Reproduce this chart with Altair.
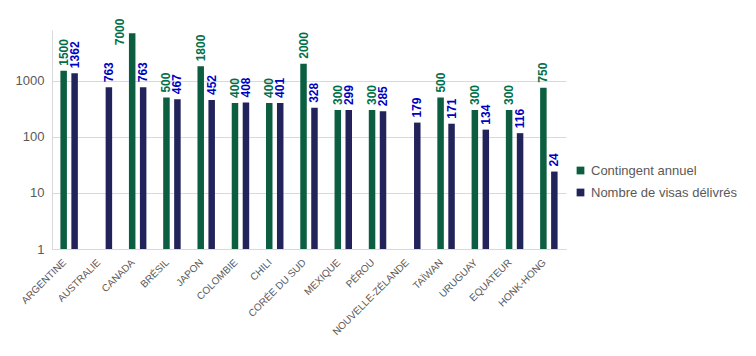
import altair as alt
import pandas as pd

countries = ["ARGENTINE", "AUSTRALIE", "CANADA", "BRÉSIL", "JAPON", "COLOMBIE", "CHILI",
             "CORÉE DU SUD", "MEXIQUE", "PÉROU", "NOUVELLE-ZÉLANDE", "TAÏWAN", "URUGUAY",
             "EQUATEUR", "HONK-HONG"]
contingent = [1500, None, 7000, 500, 1800, 400, 400, 2000, 300, 300, None, 500, 300, 300, 750]
visas = [1362, 763, 763, 467, 452, 408, 401, 328, 299, 285, 179, 171, 134, 116, 24]
series = ["Contingent annuel", "Nombre de visas délivrés"]

rows = []
for c, a, b in zip(countries, contingent, visas):
    if a is not None:
        rows.append({"pays": c, "serie": series[0], "valeur": a})
    rows.append({"pays": c, "serie": series[1], "valeur": b})
df = pd.DataFrame(rows)

x = alt.X("pays:N", sort=countries, title=None,
          scale=alt.Scale(paddingInner=0.36, paddingOuter=0.18),
          axis=alt.Axis(labelAngle=-45, labelAlign="right", labelBaseline="top",
                        labelFontSize=10, labelColor="#595959", labelFont="Liberation Sans",
                        ticks=False, domainColor="#d9d9d9", labelPadding=8, labelOffset=-8))
xo = alt.XOffset("serie:N", sort=series, scale=alt.Scale(paddingInner=0.0))
y = alt.Y("valeur:Q", title=None, stack=None,
          scale=alt.Scale(type="log", domain=[1, 8000], nice=False),
          axis=alt.Axis(values=[1, 10, 100, 1000], format="d", ticks=False,
                        labelFontSize=13, labelColor="#595959", labelFont="Liberation Sans",
                        labelPadding=8, gridColor="#d9d9d9", domainColor="#d9d9d9"))
color = alt.Color("serie:N", sort=series, title=None,
                  scale=alt.Scale(domain=series, range=["#0b5e3f", "#23235c"]),
                  legend=alt.Legend(orient="none", legendX=522, legendY=134,
                                    symbolType="square", symbolSize=60, symbolStrokeWidth=0,
                                    labelFontSize=13, labelColor="#595959",
                                    labelFont="Liberation Sans", rowPadding=8))

bars = alt.Chart(df).mark_bar(size=6.5).encode(x=x, xOffset=xo, y=y, y2=alt.datum(1), color=color)

text_color = alt.Color("serie:N", sort=series,
                       scale=alt.Scale(domain=series, range=["#00704a", "#0000c0"]), legend=None)
text_common = dict(angle=270, align="left", baseline="middle",
                   fontSize=12, fontWeight="bold", font="Liberation Sans")

labels = alt.Chart(df).transform_filter("datum.valeur < 5000").mark_text(dx=5, **text_common).encode(
    x=x, xOffset=xo, y=y, text=alt.Text("valeur:Q", format="d"), color=text_color)
labels_top = alt.Chart(df).transform_filter("datum.valeur >= 5000").mark_text(
    dx=-12, dy=-12, **text_common).encode(
    x=x, xOffset=xo, y=y, text=alt.Text("valeur:Q", format="d"), color=text_color)

chart = alt.layer(bars, labels, labels_top).resolve_scale(color="independent").properties(
    width=514, height=219,
    autosize=alt.AutoSizeParams(type="none"),
    padding={"left": 52, "top": 30, "right": 190, "bottom": 107},
).configure_view(stroke=None)

chart.save("out.html", embed_options={"renderer": "svg", "actions": False})
